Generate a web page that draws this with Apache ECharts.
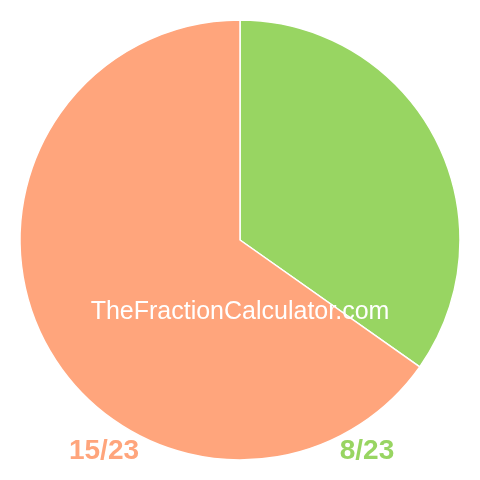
<!DOCTYPE html>
<html>
<head>
<meta charset="utf-8">
<script src="https://cdn.jsdelivr.net/npm/echarts@6/dist/echarts.min.js"></script>
<style>
html, body { margin: 0; padding: 0; background: #fff; }
#pie { width: 480px; height: 480px; }
</style>
</head>
<body>
<div id="pie"></div>
<script>
// fraction parts
var names = ['8/23', '15/23'];
var values = [8, 15];
var colors = ['#98d562', '#ffa57c'];

(function(){
	var data = [];
	names.forEach(function(n, i){
		data.push({ name: n, value: values[i], itemStyle: { color: colors[i] } });
	});

	var option = {
		animation: false,
		series: [{
			type: 'pie',
			center: [240, 240],
			radius: [0, 220],
			startAngle: 90,
			clockwise: true,
			label: { show: false },
			labelLine: { show: false },
			emphasis: { disabled: true },
			itemStyle: { borderColor: '#fff', borderWidth: 1.5 },
			data: data
		}],
		graphic: [
			{
				type: 'text', x: 240, y: 312, z: 100,
				style: { text: 'TheFractionCalculator.com', fill: '#fff', align: 'center', verticalAlign: 'middle',
					font: '25px "Liberation Sans", Arial, sans-serif' }
			},
			{
				type: 'text', x: 104, y: 451, z: 100,
				style: { text: names[1], fill: colors[1], align: 'center', verticalAlign: 'middle',
					font: 'bold 28px "Liberation Sans", Arial, sans-serif' }
			},
			{
				type: 'text', x: 367, y: 451, z: 100,
				style: { text: names[0], fill: colors[0], align: 'center', verticalAlign: 'middle',
					font: 'bold 28px "Liberation Sans", Arial, sans-serif' }
			}
		]
	};

	var myChart = echarts.init(document.getElementById('pie'));
	myChart.setOption(option);
})();
</script>
</body>
</html>
